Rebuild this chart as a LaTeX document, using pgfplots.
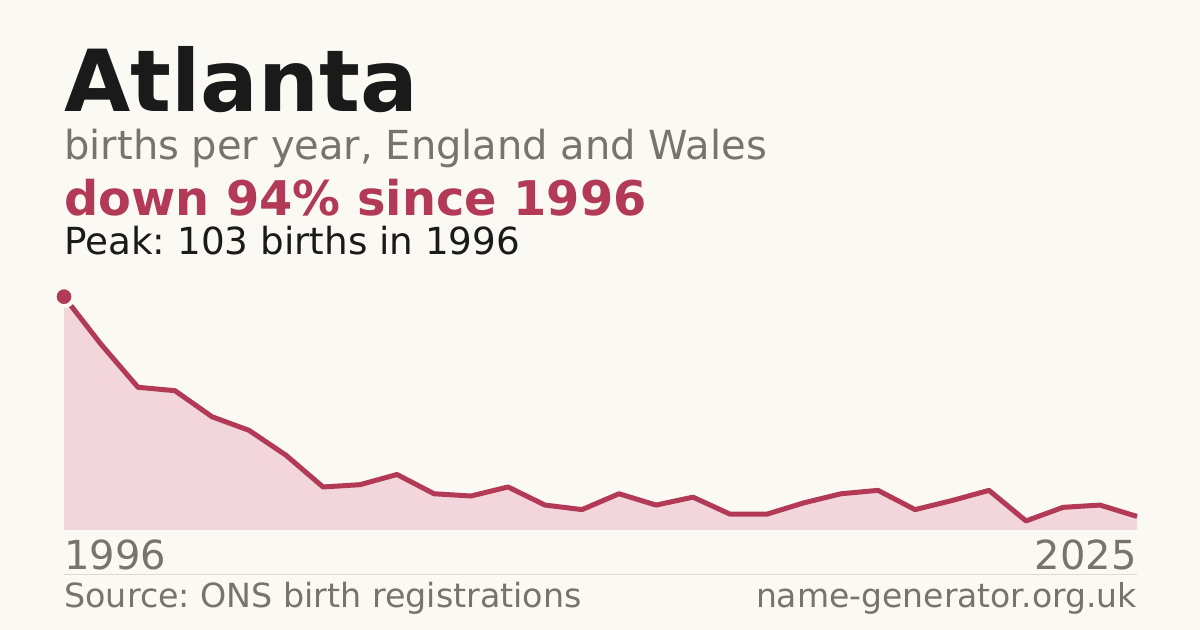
\documentclass[border=0pt]{standalone}
\usepackage{fontspec}
\setmainfont{DejaVu Sans}
\usepackage{pgfplots}
\usepackage{pgfplotstable}
\pgfplotsset{compat=1.18}
\definecolor{bg}{HTML}{FAF9F4}
\definecolor{crim}{HTML}{B23A57}
\definecolor{pinkfill}{HTML}{F2D6DC}
\definecolor{graytxt}{HTML}{78736B}
\definecolor{titletxt}{HTML}{1A1A1A}
\definecolor{sepc}{HTML}{DDDAD3}
\pgfplotstableread{
year births
1996 103
1997 82
1998 63
1999 61.5
2000 50
2001 44
2002 33
2003 19
2004 20
2005 24.5
2006 16
2007 15
2008 19
2009 11
2010 9
2011 16
2012 11
2013 14.5
2014 7
2015 7
2016 12
2017 16
2018 17.5
2019 9
2020 13
2021 17.5
2022 4
2023 10
2024 11
2025 6
}\births
\begin{document}
\frenchspacing
\begin{tikzpicture}[x=1pt,y=1pt]
\fill[bg] (0,0) rectangle (600,315);
\node[anchor=base west, inner sep=0, text=titletxt, font=\fontsize{42.8}{50}\selectfont\bfseries] at (32,259) {Atlanta};
\node[anchor=base west, inner sep=0, text=graytxt, font=\fontsize{20}{24}\selectfont] at (32,235) {births per year, England and Wales};
\node[anchor=base west, inner sep=0, text=crim, font=\fontsize{23.9}{28}\selectfont\bfseries] at (32,207) {down 94\% since 1996};
\node[anchor=base west, inner sep=0, text=titletxt, font=\fontsize{18.65}{22}\selectfont] at (32,187.5) {Peak: 103 births in 1996};
\node[anchor=base west, inner sep=0, text=graytxt, font=\fontsize{20}{24}\selectfont] at (32,30) {1996};
\node[anchor=base east, inner sep=0, text=graytxt, font=\fontsize{20}{24}\selectfont] at (568.5,30) {2025};
\draw[sepc, line width=0.5pt] (32,27.85) -- (568.5,27.85);
\node[anchor=base west, inner sep=0, text=graytxt, font=\fontsize{16.65}{20}\selectfont] at (32,11) {Source: ONS birth registrations};
\node[anchor=base east, inner sep=0, text=graytxt, font=\fontsize{16.5}{20}\selectfont] at (568.5,11) {name-generator.org.uk};
\begin{axis}[at={(32pt,50pt)}, anchor=south west, scale only axis,
  width=536.5pt, height=116.65pt, xmin=1996, xmax=2025, ymin=0, ymax=103,
  axis lines=none, ticks=none, clip=false]
\addplot[draw=none, fill=pinkfill] table[x=year,y=births] {\births} \closedcycle;
\addplot[crim, line width=2.5pt, line join=round] table[x=year,y=births] {\births};
\addplot[only marks, mark=*, mark size=4.75pt, mark options={fill=crim, draw=bg, line width=2pt}] coordinates {(1996,103)};
\end{axis}
\end{tikzpicture}
\end{document}
